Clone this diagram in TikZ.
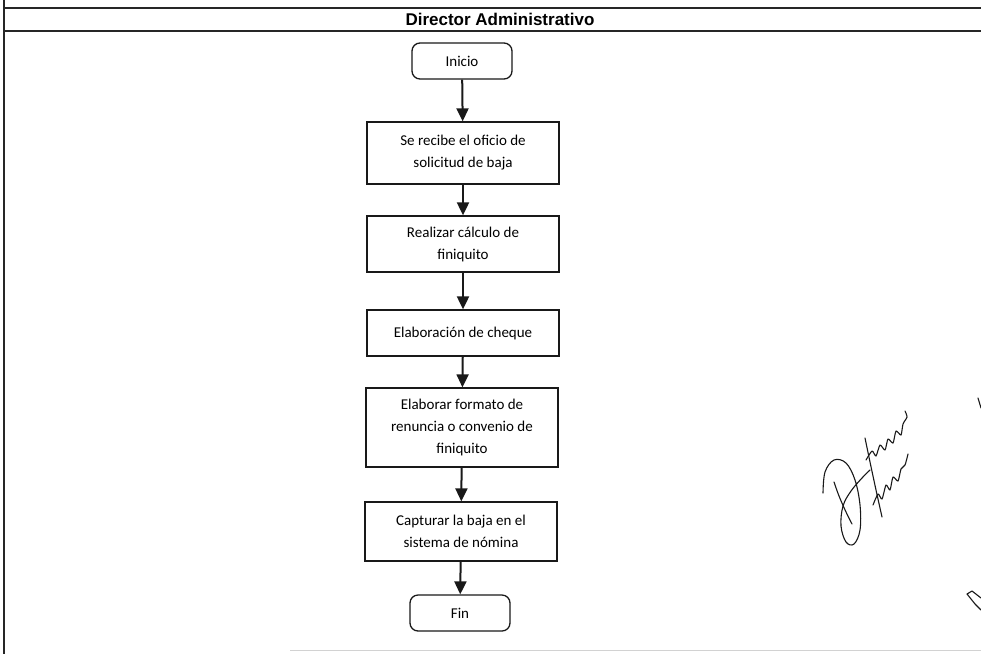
\documentclass[tikz,border=0pt]{standalone}
\usepackage{fontspec}
\setmainfont{Carlito}
\newfontfamily\hdrfont{Liberation Sans}
\usetikzlibrary{arrows.meta}

\tikzset{
  frameline/.style={draw=black!85, line width=1.4pt},
  stepbox/.style={draw=black!90, line width=1.3pt, rectangle, minimum width=192pt,
    inner sep=0pt, align=center, font=\fontsize{15}{22}\selectfont},
  termbox/.style={stepbox, rounded corners=8pt, minimum width=100pt, minimum height=36pt},
  flow/.style={draw=black!90, line width=2pt, -{Triangle[width=12pt,length=13pt]}},
  ink/.style={draw=black!90, line width=1.1pt, line cap=round, line join=round},
}

\begin{document}
\begin{tikzpicture}[x=1pt, y=-1pt]
  \useasboundingbox (0,0) rectangle (981,654);

  % frame and lane header
  \draw[frameline] (4,0) -- (4,654);
  \draw[frameline] (4,8) -- (981,8);
  \draw[frameline] (4,31) -- (981,31);
  \node[font=\hdrfont\bfseries\fontsize{17}{20}\selectfont] (lane) at (500,19.5) {Director Administrativo};

  % flow steps
  \node[termbox] (inicio) at (462,61) {Inicio};
  \node[stepbox, minimum height=62pt] (s1) at (463,153) {Se recibe el oficio de\\solicitud de baja};
  \node[stepbox, minimum height=56pt] (s2) at (463,244) {Realizar cálculo de\\finiquito};
  \node[stepbox, minimum height=46pt] (s3) at (463,333) {Elaboración de cheque};
  \node[stepbox, minimum height=79pt] (s4) at (462,427.5) {Elaborar formato de\\renuncia o convenio de\\finiquito};
  \node[stepbox, minimum height=59pt] (s5) at (461,531.5) {Capturar la baja en el\\sistema de nómina};
  \node[termbox] (fin) at (460,613) {Fin};

  % connectors
  \draw[flow] (inicio) -- (s1);
  \draw[flow] (s1) -- (s2);
  \draw[flow] (s2) -- (s3);
  \draw[flow] (s3) -- (s4);
  \draw[flow] (s4) -- (s5);
  \draw[flow] (s5) -- (fin);

  % faint line near the lower edge
  \draw[gray!35, line width=0.8pt] (290,650) -- (981,650);

  % handwritten signature
  \draw[ink] plot[smooth, tension=0.6] coordinates {(823,493) (825,472) (834,460) (846,463) (855,480) (860,505) (860,530) (854,544) (846,542) (841,526) (843,506) (851,491) (862,478) (870,470)};
  \draw[ink] plot[smooth, tension=0.6] coordinates {(834,482) (839,496) (846,512) (852,524)};
  \draw[ink] plot[smooth, tension=0.4] coordinates {(865,438) (870,462) (876,490) (882,517)};
  \draw[ink] plot[smooth, tension=0.4] coordinates {(866,460) (872,451) (876,456) (880,445) (885,450) (888,439) (893,443) (896,431) (901,435) (903,424) (907,417) (905,411)};
  \draw[ink] plot[smooth, tension=0.4] coordinates {(873,505) (878,494) (882,499) (886,485) (890,490) (893,477) (898,481) (901,469) (905,465) (908,454)};
  \draw[ink] (978,398) -- (981,408);
  \draw[ink] (981,598) -- (972,591) -- (967,594) -- (975,604) -- (981,610);
\end{tikzpicture}
\end{document}
